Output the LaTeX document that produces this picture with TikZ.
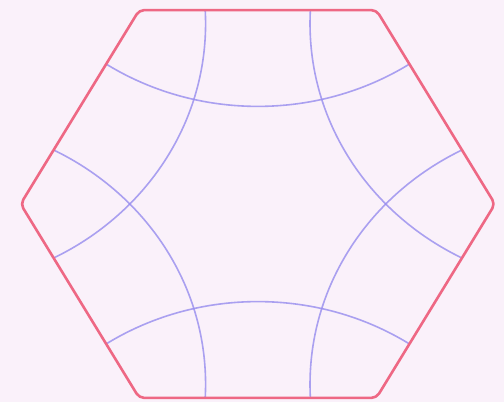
\documentclass[tikz,border=0pt]{standalone}
\usepackage{xcolor}
\usepackage{tikz}
\definecolor{bgcolor}{RGB}{250,241,250}
\definecolor{edgecolor}{RGB}{238,104,132}
\definecolor{arccolor}{RGB}{150,140,238}
\begin{document}
\begin{tikzpicture}[x=1pt,y=1pt,
hexline/.style={draw=edgecolor,line width=2.6pt,rounded corners=5pt,line join=round},
arcline/.style={draw=arccolor,line width=1.6pt,opacity=0.8}]
\fill[bgcolor] (0,0) rectangle (504,402);
\useasboundingbox (0,0) rectangle (504,402);
\begin{scope}[shift={(257.8,198)},yscale=0.944]
\foreach \i in {0,...,5} \coordinate (h\i) at (60*\i:237.2);
% six circles, centres beyond the edge midpoints
\begin{scope}
\clip (h0)--(h1)--(h2)--(h3)--(h4)--(h5)--cycle;
\foreach \a in {30,90,...,330} \draw[arcline] (\a:382) circle (278.6);
\end{scope}
\draw[hexline] (h0)--(h1)--(h2)--(h3)--(h4)--(h5)--cycle;
\end{scope}
\end{tikzpicture}
\end{document}
